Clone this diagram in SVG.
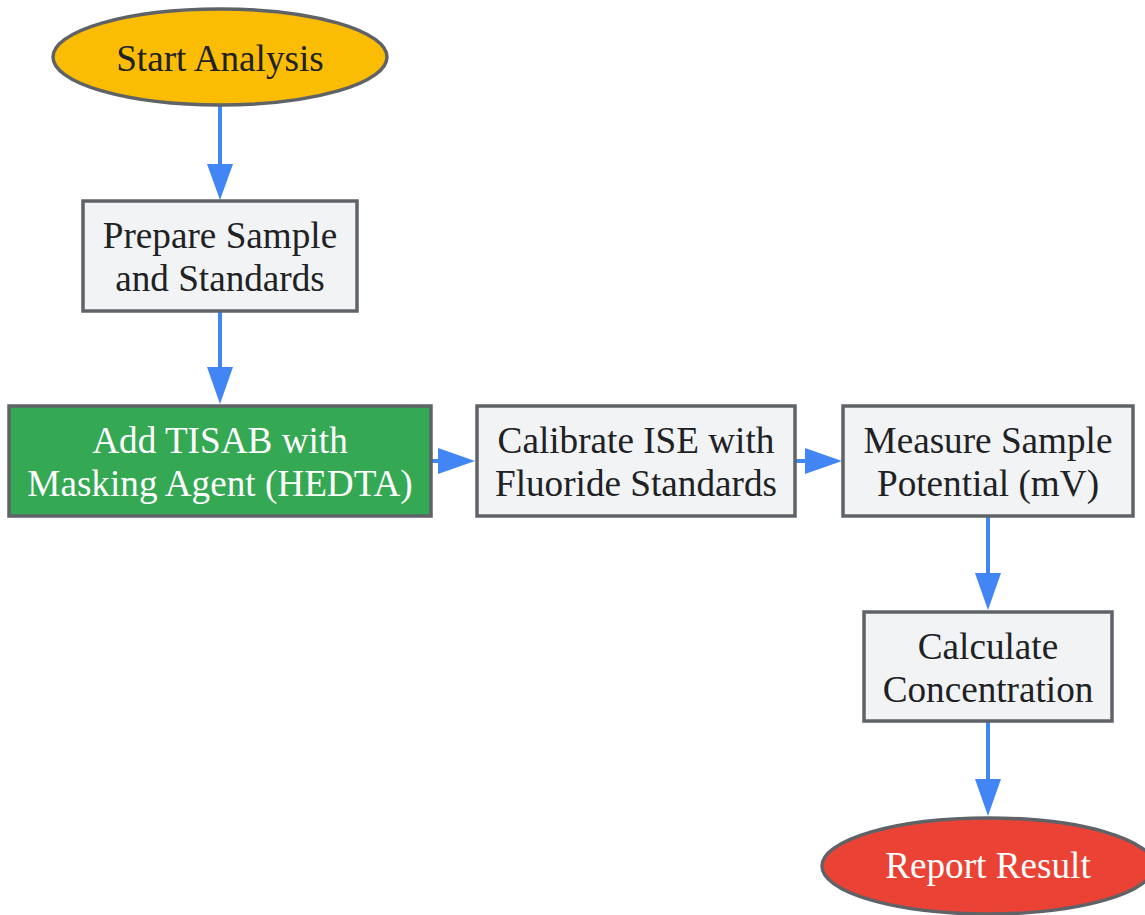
<svg xmlns="http://www.w3.org/2000/svg" width="1145" height="915" viewBox="0 0 1145 915">
<style>
.box{fill:#F1F3F4;stroke:#5F6368;stroke-width:3.5}
.t{font-family:"Liberation Serif","Times New Roman",serif;font-size:37.2px;fill:#202124;text-anchor:middle}
.w{fill:#FFFFFF}
.edge{stroke:#4285F4;stroke-width:4;fill:none}
.head{fill:#4285F4}
</style>
<rect width="1145" height="915" fill="#FFFFFF"/>
<g id="connectors">
<line class="edge" x1="220" y1="105" x2="220" y2="166"/>
<polygon class="head" points="207,164 233,164 220,200"/>
<line class="edge" x1="220" y1="311" x2="220" y2="370"/>
<polygon class="head" points="207,367 233,367 220,404"/>
<line class="edge" x1="431" y1="461" x2="440" y2="461"/>
<polygon class="head" points="438,448 438,474 475,461"/>
<line class="edge" x1="795" y1="461" x2="807" y2="461"/>
<polygon class="head" points="805,448 805,474 842,461"/>
<line class="edge" x1="988" y1="516" x2="988" y2="575"/>
<polygon class="head" points="975,573 1001,573 988,610"/>
<line class="edge" x1="988" y1="721" x2="988" y2="781"/>
<polygon class="head" points="975,779 1001,779 988,816"/>
</g>
<g id="start">
<ellipse cx="220" cy="57" rx="167" ry="48" fill="#FBBC04" stroke="#5F6368" stroke-width="3.5"/>
<text class="t" x="220" y="71">Start Analysis</text>
</g>
<g id="prepare">
<rect class="box" x="83" y="201" width="274" height="110"/>
<text class="t" x="220" y="248">Prepare Sample</text>
<text class="t" x="220" y="291">and Standards</text>
</g>
<g id="tisab">
<rect x="9" y="406" width="422" height="110" fill="#34A853" stroke="#5F6368" stroke-width="3.5"/>
<text class="t w" x="220" y="453">Add TISAB with</text>
<text class="t w" x="220" y="496">Masking Agent (HEDTA)</text>
</g>
<g id="calibrate">
<rect class="box" x="477" y="406" width="318" height="110"/>
<text class="t" x="636" y="453">Calibrate ISE with</text>
<text class="t" x="636" y="496">Fluoride Standards</text>
</g>
<g id="measure">
<rect class="box" x="843" y="406" width="290" height="110"/>
<text class="t" x="988" y="453">Measure Sample</text>
<text class="t" x="988" y="496">Potential (mV)</text>
</g>
<g id="calculate">
<rect class="box" x="864" y="612" width="248" height="109"/>
<text class="t" x="988" y="659">Calculate</text>
<text class="t" x="988" y="702">Concentration</text>
</g>
<g id="report">
<ellipse cx="988" cy="866" rx="166" ry="48" fill="#EA4335" stroke="#5F6368" stroke-width="3.5"/>
<text class="t w" x="988" y="878">Report Result</text>
</g>
</svg>
